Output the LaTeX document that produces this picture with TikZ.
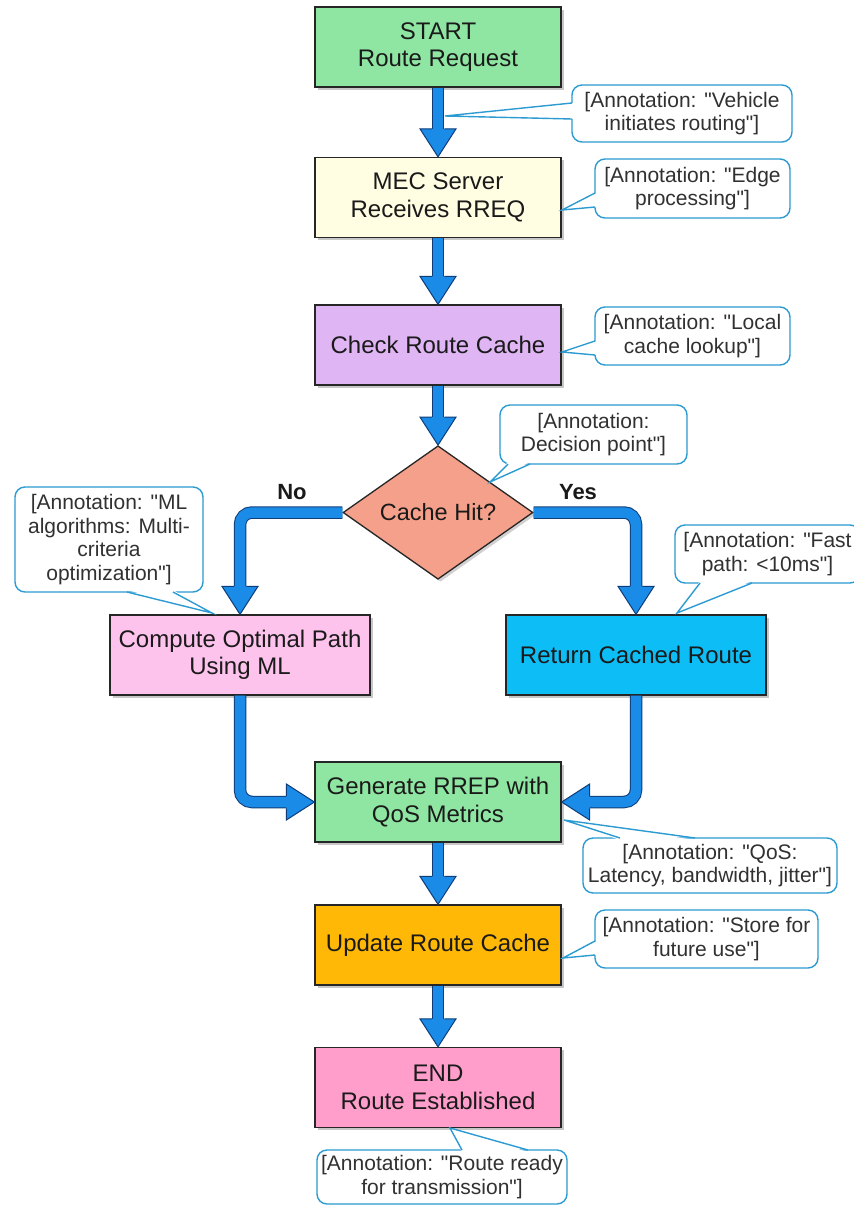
\documentclass[tikz,border=0pt]{standalone}
\usepackage{fontspec}
\setmainfont{Liberation Sans}
\usetikzlibrary{shapes.geometric,shadows,calc}

\definecolor{flowblue}{HTML}{1A8CE8}
\definecolor{flowedge}{HTML}{0E3C78}
\definecolor{boxedge}{HTML}{262626}
\definecolor{notecol}{HTML}{2B9BD2}
\definecolor{inktext}{HTML}{1A1A1A}
\definecolor{cStart}{HTML}{8FE6A2}
\definecolor{cMec}{HTML}{FFFDE2}
\definecolor{cCheck}{HTML}{DFB5F4}
\definecolor{cDec}{HTML}{F5A08A}
\definecolor{cComp}{HTML}{FEC3EC}
\definecolor{cRet}{HTML}{0DBEF6}
\definecolor{cUpd}{HTML}{FFB805}
\definecolor{cEnd}{HTML}{FF9DCB}

% straight double quote
\newcommand\qq{\textquotedbl}

\tikzset{
  stepbox/.style={draw=boxedge, line width=1.3pt, minimum width=246pt, minimum height=80pt,
    inner sep=0pt, align=center, text=inktext, font=\fontsize{24}{27.5}\selectfont,
    drop shadow={shadow xshift=2.5pt, shadow yshift=-2.5pt, opacity=0.22, fill=black}},
  decision/.style={diamond, draw=boxedge, line width=1.3pt, minimum width=190pt,
    minimum height=121pt, inner sep=0pt, text=inktext, font=\fontsize{23.5}{27}\selectfont},
  note/.style={draw=notecol, line width=1.4pt, fill=white, rounded corners=10pt,
    inner sep=0pt, align=center, text=inktext!90, font=\fontsize{21}{23.5}\selectfont},
  tailline/.style={draw=notecol, line width=1.4pt, line join=miter},
  shaft/.style={draw=flowedge, line width=1pt, double=flowblue, double distance=10.5pt,
    rounded corners=12pt},
  branchlabel/.style={font=\bfseries\fontsize{22}{26}\selectfont, text=inktext},
}

% arrow head: tip at #1, pointing in direction #2 (degrees)
\newcommand\flowhead[2]{%
  \begin{scope}[shift={(#1)}, rotate=#2, x=1pt, y=1pt]
    \fill[flowblue] (-28,18) -- (0,0) -- (-28,-18) -- cycle;
    \draw[flowedge, line width=1pt, line join=miter]
      (-28,6.25) -- (-28,18) -- (0,0) -- (-28,-18) -- (-28,-6.25);
  \end{scope}}

% callout tail: base points #1 and #2 on the note border, tip #3,
% (#4,#5) nudges the white cover into the note so its border opens
\newcommand\notetail[5]{%
  \fill[white] ($(#1)+(#4,#5)$) -- (#3) -- ($(#2)+(#4,#5)$) -- cycle;
  \draw[tailline] (#1) -- (#3) -- (#2);}

\begin{document}
\begin{tikzpicture}[x=1pt,y=-1pt]
\useasboundingbox (0,0) rectangle (854,1205);
\clip (0,0) rectangle (854,1205);
\fill[white] (0,0) rectangle (854,1205);

% process steps
\node[stepbox, fill=cStart] (start) at (438,47) {START\\Route Request};
\node[stepbox, fill=cMec] (mec) at (438,197.5) {MEC Server\\Receives RREQ};
\node[stepbox, fill=cCheck] (check) at (438,345) {Check Route Cache};
\node[decision, fill=cDec, drop shadow={shadow xshift=2.5pt, shadow yshift=-2.5pt, opacity=0.18, fill=black}] (dec) at (438,512.5) {Cache Hit?};
\node[stepbox, fill=cComp, minimum width=260pt] (comp) at (240,655) {Compute Optimal Path\\Using ML};
\node[stepbox, fill=cRet, minimum width=260pt] (ret) at (636,655) {Return Cached Route};
\node[stepbox, fill=cStart] (gen) at (438,802) {Generate RREP with\\QoS Metrics};
\node[stepbox, fill=cUpd] (upd) at (438,945) {Update Route Cache};
\node[stepbox, fill=cEnd] (fin) at (438,1087.5) {END\\Route Established};

% flow arrows
\draw[shaft] (start.south) -- ([yshift=26pt]mec.north);
\flowhead{mec.north}{-90}
\draw[shaft] (mec.south) -- ([yshift=26pt]check.north);
\flowhead{check.north}{-90}
\draw[shaft] (check.south) -- ([yshift=26pt]dec.north);
\flowhead{dec.north}{-90}
\draw[shaft] (dec.west) -| ([yshift=26pt]comp.north);
\flowhead{comp.north}{-90}
\draw[shaft] (dec.east) -| ([yshift=26pt]ret.north);
\flowhead{ret.north}{-90}
\draw[shaft] (comp.south) |- ([xshift=-26pt]gen.west);
\flowhead{gen.west}{0}
\draw[shaft] (ret.south) |- ([xshift=26pt]gen.east);
\flowhead{gen.east}{180}
\draw[shaft] (gen.south) -- ([yshift=26pt]upd.north);
\flowhead{upd.north}{-90}
\draw[shaft] (upd.south) -- ([yshift=26pt]fin.north);
\flowhead{fin.north}{-90}

% branch labels
\node[branchlabel] (nolbl) at (292,492) {No};
\node[branchlabel] (yeslbl) at (578,492) {Yes};

% annotations
\node[note, minimum width=220pt, minimum height=57pt] (n1) at (682,113.5) {[Annotation: \qq Vehicle\\initiates routing\qq]};
\notetail{572,103}{572,119}{445,116}{2}{0}
\node[note, minimum width=195pt, minimum height=59pt] (n2) at (692.5,188.5) {[Annotation: \qq Edge\\processing\qq]};
\notetail{595,193}{595,207}{562,210}{2}{0}
\node[note, minimum width=195pt, minimum height=58pt] (n3) at (692.5,336) {[Annotation: \qq Local\\cache lookup\qq]};
\notetail{595,341}{595,355}{562,352}{2}{0}
\node[note, minimum width=187pt, minimum height=59pt] (n4) at (593.5,434.5) {[Annotation:\\Decision point\qq]};
\notetail{508,464}{530,464}{490,482}{0}{-2}
\node[note, minimum width=188pt, minimum height=105pt] (n5) at (109,539.5) {[Annotation: \qq ML\\algorithms: Multi-\\criteria\\optimization\qq]};
\notetail{127,592}{173,592}{212,613}{0}{-2}
\node[note, minimum width=185pt, minimum height=58pt] (n6) at (767.5,554) {[Annotation: \qq Fast\\path: <10ms\qq]};
\notetail{700,583}{752,583}{677,613}{0}{-2}
\node[note, minimum width=254pt, minimum height=55pt] (n7) at (710,865.5) {[Annotation: \qq QoS:\\Latency, bandwidth, jitter\qq]};
\notetail{620,838}{695,838}{564,820}{0}{2}
\node[note, minimum width=223pt, minimum height=58pt] (n8) at (706.5,939) {[Annotation: \qq Store for\\future use\qq]};
\notetail{595,941}{595,955}{563,958}{2}{0}
\node[note, minimum width=250pt, minimum height=54pt] (n9) at (442,1177) {[Annotation: \qq Route ready\\for transmission\qq]};
\notetail{462,1150}{528,1150}{450,1128}{0}{2}
\end{tikzpicture}
\end{document}
